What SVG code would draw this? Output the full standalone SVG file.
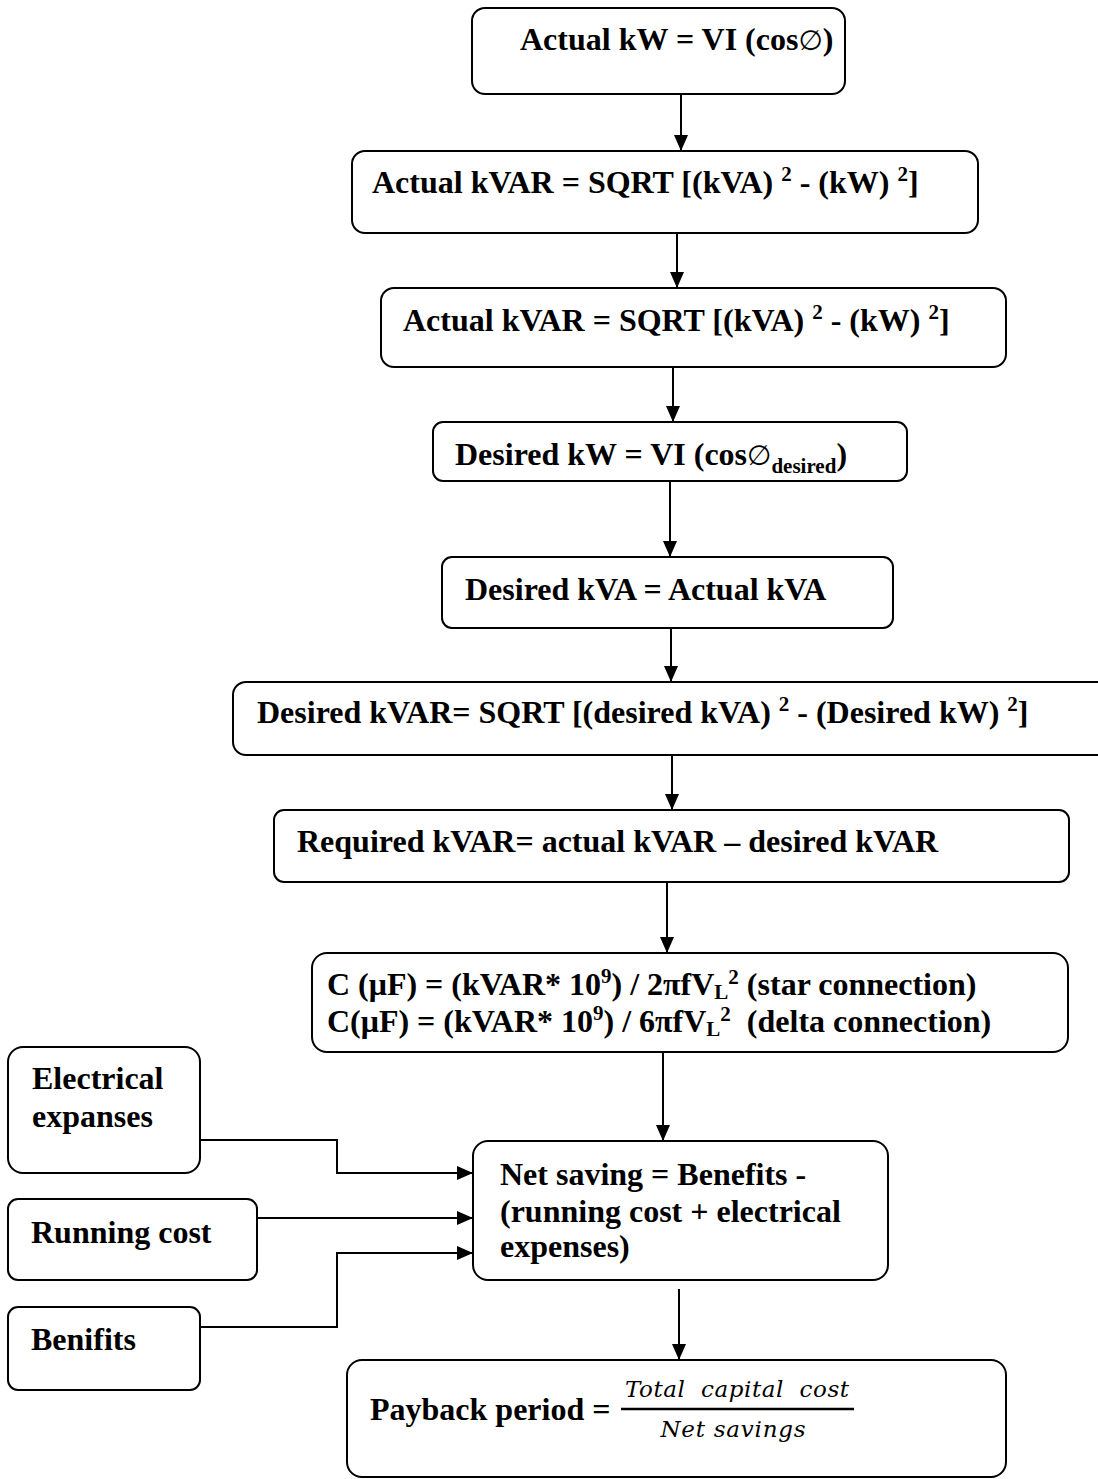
<svg xmlns="http://www.w3.org/2000/svg" width="1098" height="1479" viewBox="0 0 1098 1479">
  <style>
    .box { fill: #ffffff; stroke: #000000; stroke-width: 2; }
    .t { font-family: "Liberation Serif", "Times New Roman", serif; font-weight: bold; font-size: 32px; fill: #000000; white-space: pre; }
    .sm { font-size: 21px; }
    .sym { font-family: "DejaVu Sans", sans-serif; font-weight: normal; font-size: 28px; }
    .frac { font-family: "DejaVu Serif", "Liberation Serif", serif; font-style: italic; font-weight: normal; font-size: 23px; fill: #000000; white-space: pre; }
    .wire { fill: none; stroke: #000000; stroke-width: 2; }
  </style>
  <defs>
    <marker id="arrow" viewBox="0 0 16 14" refX="16" refY="7" markerWidth="16" markerHeight="14" markerUnits="userSpaceOnUse" orient="auto">
      <path d="M0,0 L16,7 L0,14 Z" fill="#000000"/>
    </marker>
  </defs>
  <rect width="1098" height="1479" fill="#ffffff"/>

  <!-- connectors -->
  <g id="connectors">
    <path class="wire" d="M681,94 V151" marker-end="url(#arrow)"/>
    <path class="wire" d="M677,233 V288" marker-end="url(#arrow)"/>
    <path class="wire" d="M673,367 V422" marker-end="url(#arrow)"/>
    <path class="wire" d="M670,481 V557" marker-end="url(#arrow)"/>
    <path class="wire" d="M671,628 V682" marker-end="url(#arrow)"/>
    <path class="wire" d="M672,755 V810" marker-end="url(#arrow)"/>
    <path class="wire" d="M667,882 V953" marker-end="url(#arrow)"/>
    <path class="wire" d="M663,1052 V1141" marker-end="url(#arrow)"/>
    <path class="wire" d="M679,1289 V1360" marker-end="url(#arrow)"/>
    <path class="wire" d="M200,1140 H337 V1173 H473" marker-end="url(#arrow)"/>
    <path class="wire" d="M257,1218 H473" marker-end="url(#arrow)"/>
    <path class="wire" d="M200,1327 H337 V1253 H473" marker-end="url(#arrow)"/>
  </g>

  <g id="actual-kw">
    <rect class="box" x="472" y="8" width="373" height="86" rx="13"/>
    <text class="t" x="520" y="50">Actual kW = VI (cos<tspan class="sym">∅</tspan>)</text>
  </g>

  <g id="actual-kvar-1">
    <rect class="box" x="352" y="151" width="626" height="82" rx="13"/>
    <text class="t" x="372" y="193">Actual kVAR = SQRT [(kVA) <tspan class="sm" dy="-12">2</tspan><tspan dy="12"> - (kW) </tspan><tspan class="sm" dy="-12">2</tspan><tspan dy="12">]</tspan></text>
  </g>

  <g id="actual-kvar-2">
    <rect class="box" x="381" y="288" width="625" height="79" rx="13"/>
    <text class="t" x="403" y="331">Actual kVAR = SQRT [(kVA) <tspan class="sm" dy="-12">2</tspan><tspan dy="12"> - (kW) </tspan><tspan class="sm" dy="-12">2</tspan><tspan dy="12">]</tspan></text>
  </g>

  <g id="desired-kw">
    <rect class="box" x="433" y="422" width="474" height="59" rx="10"/>
    <text class="t" x="455" y="465">Desired kW = VI (cos<tspan class="sym">∅</tspan><tspan class="sm" dy="8">desired</tspan><tspan dy="-8">)</tspan></text>
  </g>

  <g id="desired-kva">
    <rect class="box" x="442" y="557" width="451" height="71" rx="10"/>
    <text class="t" x="465" y="600">Desired kVA = Actual kVA</text>
  </g>

  <g id="desired-kvar">
    <rect class="box" x="233" y="682" width="880" height="73" rx="13"/>
    <text class="t" x="257" y="723">Desired kVAR= SQRT [(desired kVA) <tspan class="sm" dy="-12">2</tspan><tspan dy="12"> - (Desired kW) </tspan><tspan class="sm" dy="-12">2</tspan><tspan dy="12">]</tspan></text>
  </g>

  <g id="required-kvar">
    <rect class="box" x="274" y="810" width="795" height="72" rx="10"/>
    <text class="t" x="297" y="852">Required kVAR= actual kVAR – desired kVAR</text>
  </g>

  <g id="capacitance">
    <rect class="box" x="312" y="953" width="756" height="99" rx="15"/>
    <text class="t" x="327" y="995">C (μF) = (kVAR* 10<tspan class="sm" dy="-12">9</tspan><tspan dy="12">) / 2πfV</tspan><tspan class="sm" dy="4">L</tspan><tspan class="sm" dy="-15">2</tspan><tspan dy="11"> (star connection)</tspan></text>
    <text class="t" x="327" y="1032">C(μF) = (kVAR* 10<tspan class="sm" dy="-12">9</tspan><tspan dy="12">) / 6πfV</tspan><tspan class="sm" dy="4">L</tspan><tspan class="sm" dy="-15">2</tspan><tspan dy="11">  (delta connection)</tspan></text>
  </g>

  <g id="electrical-expanses">
    <rect class="box" x="8" y="1047" width="192" height="126" rx="15"/>
    <text class="t" x="32" y="1089">Electrical</text>
    <text class="t" x="32" y="1127">expanses</text>
  </g>

  <g id="running-cost">
    <rect class="box" x="8" y="1199" width="249" height="81" rx="10"/>
    <text class="t" x="31" y="1243">Running cost</text>
  </g>

  <g id="benifits">
    <rect class="box" x="8" y="1307" width="192" height="83" rx="10"/>
    <text class="t" x="31" y="1350">Benifits</text>
  </g>

  <g id="net-saving">
    <rect class="box" x="473" y="1141" width="415" height="139" rx="15"/>
    <text class="t" x="500" y="1185">Net saving = Benefits -</text>
    <text class="t" x="500" y="1222">(running cost + electrical</text>
    <text class="t" x="500" y="1257">expenses)</text>
  </g>

  <g id="payback">
    <rect class="box" x="347" y="1360" width="659" height="117" rx="15"/>
    <text class="t" x="370" y="1420">Payback period =</text>
    <text class="frac" x="737" y="1397" text-anchor="middle" textLength="224" lengthAdjust="spacing">Total  capital  cost</text>
    <line x1="621" y1="1409" x2="854" y2="1409" stroke="#000000" stroke-width="2.5"/>
    <text class="frac" x="733" y="1437" text-anchor="middle" textLength="145" lengthAdjust="spacing">Net savings</text>
  </g>
</svg>
